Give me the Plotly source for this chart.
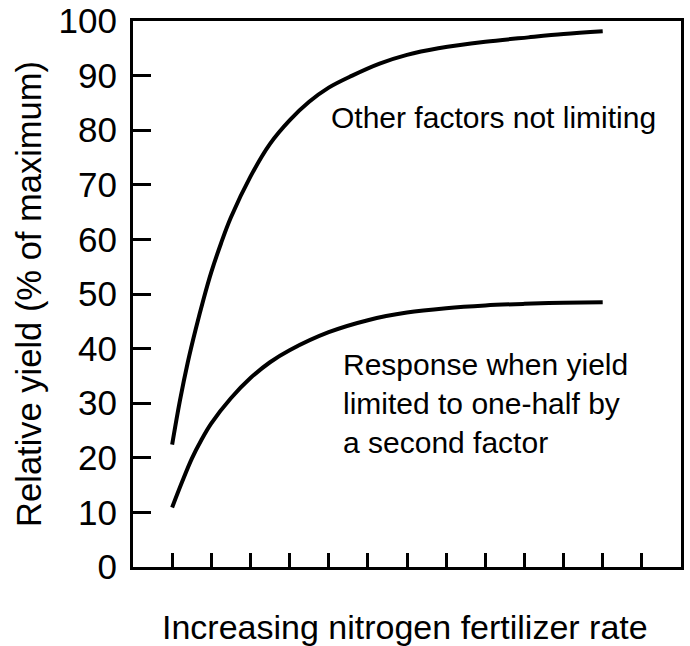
import plotly.graph_objects as go

# Upper curve: other factors not limiting
x_full = [1.0, 1.2, 1.4, 1.6, 1.8, 2.0, 2.25, 2.5, 3.0, 3.5, 4.0, 4.5, 5.0, 5.6, 6.3, 7.0, 7.8, 9.0, 10.1, 11.0, 12.0]
y_full = [22.4, 30.5, 37.5, 43.5, 49.0, 54.0, 59.3, 64.0, 71.5, 77.5, 81.8, 85.2, 87.8, 90.0, 92.2, 93.8, 95.0, 96.2, 97.0, 97.6, 98.1]

# Lower curve: yield limited to one-half by a second factor
x_half = [1.0, 1.25, 1.5, 1.75, 2.0, 2.5, 3.0, 3.5, 4.0, 5.0, 6.0, 7.0, 8.0, 9.0, 10.0, 11.0, 12.0]
y_half = [10.9, 15.5, 19.8, 23.3, 26.3, 30.9, 34.6, 37.5, 39.7, 43.0, 45.2, 46.6, 47.4, 47.9, 48.2, 48.4, 48.5]

y_ticks = list(range(0, 101, 10))
x_ticks = list(range(1, 14))

FONT = "Liberation Sans, Arial, sans-serif"

fig = go.Figure()
for xs, ys in ((x_full, y_full), (x_half, y_half)):
    fig.add_trace(go.Scatter(x=xs, y=ys, mode="lines",
                             line=dict(color="black", width=4, shape="spline", smoothing=1.0),
                             showlegend=False, hoverinfo="skip"))

fig.add_annotation(x=5.0, y=82.4, xref="x", yref="y", xanchor="left", yanchor="middle",
                   text="Other factors not limiting", showarrow=False,
                   font=dict(family=FONT, size=30, color="black"))
fig.add_annotation(x=5.31, y=30.0, xref="x", yref="y", xanchor="left", yanchor="middle",
                   align="left",
                   text="Response when yield<br>limited to one-half by<br>a second factor",
                   showarrow=False, font=dict(family=FONT, size=30, color="black"))

# Axis titles
fig.add_annotation(x=-0.19, y=0.5, xref="paper", yref="paper", xanchor="center", yanchor="middle",
                   text="Relative yield (% of maximum)", textangle=-90, showarrow=False,
                   font=dict(family=FONT, size=34.5, color="black"))
fig.add_annotation(x=0.4955, y=-0.109, xref="paper", yref="paper", xanchor="center", yanchor="middle",
                   text="Increasing nitrogen fertilizer rate", showarrow=False,
                   font=dict(family=FONT, size=34, color="black"))

fig.update_xaxes(range=[0, 14], tickvals=x_ticks, showticklabels=False,
                 ticks="inside", ticklen=14, tickwidth=3, tickcolor="black",
                 showline=True, linewidth=3, linecolor="black", mirror=True,
                 showgrid=False, zeroline=False, automargin=False)
fig.update_yaxes(range=[0, 100], tickvals=y_ticks,
                 ticks="inside", ticklen=18, tickwidth=3, tickcolor="black",
                 showline=True, linewidth=3, linecolor="black", mirror=True,
                 showgrid=False, zeroline=False, ticklabelstandoff=6, automargin=False,
                 tickfont=dict(family=FONT, size=35, color="black"))

fig.update_layout(width=690, height=646, margin=dict(l=133, r=9, t=21, b=79),
                  plot_bgcolor="white", paper_bgcolor="white")

fig.write_html("out.html", config={"displayModeBar": False},
               post_script="document.body.style.margin='0';")
